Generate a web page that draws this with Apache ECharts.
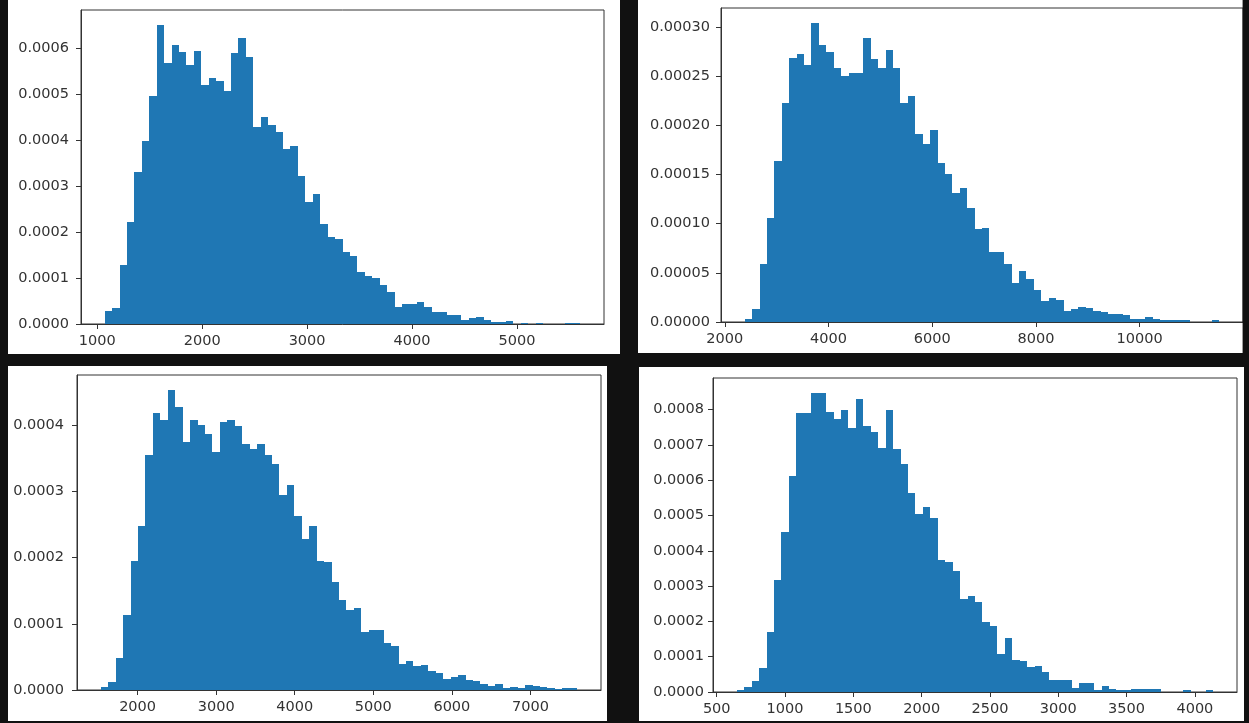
<!DOCTYPE html>
<html>
<head>
<meta charset="utf-8">
<script src="https://cdn.jsdelivr.net/npm/echarts@6/dist/echarts.min.js"></script>
<style>
  html, body { margin: 0; padding: 0; background: #111111; }
  #chart { width: 1249px; height: 723px; }
</style>
</head>
<body>
<div id="chart"></div>
<script>
// ---- data (density values; 64 equal-width bins per panel) ----
const hist1Range = [1072, 5603];
const hist1Density = [0.29e-4, 0.35e-4, 1.29e-4, 2.23e-4, 3.31e-4, 3.99e-4, 4.97e-4, 6.51e-4, 5.68e-4, 6.08e-4,
  5.92e-4, 5.64e-4, 5.95e-4, 5.20e-4, 5.35e-4, 5.29e-4, 5.08e-4, 5.89e-4, 6.22e-4, 5.81e-4,
  4.29e-4, 4.50e-4, 4.34e-4, 4.19e-4, 3.82e-4, 3.88e-4, 3.22e-4, 2.65e-4, 2.83e-4, 2.17e-4,
  1.90e-4, 1.86e-4, 1.57e-4, 1.48e-4, 1.14e-4, 1.05e-4, 1.00e-4, 0.85e-4, 0.69e-4, 0.38e-4,
  0.44e-4, 0.44e-4, 0.47e-4, 0.36e-4, 0.26e-4, 0.26e-4, 0.19e-4, 0.19e-4, 0.09e-4, 0.12e-4,
  0.15e-4, 0.09e-4, 0.04e-4, 0.04e-4, 0.07e-4, 0, 0.03e-4, 0, 0.03e-4, 0,
  0, 0, 0.03e-4, 0.03e-4];
const hist1XTicks = [1000, 2000, 3000, 4000, 5000];
const hist1YTicks = [0, 0.0001, 0.0002, 0.0003, 0.0004, 0.0005, 0.0006];

const hist2Range = [2385, 11535];
const hist2Density = [0.03e-4, 0.135e-4, 0.59e-4, 1.06e-4, 1.64e-4, 2.23e-4, 2.68e-4, 2.72e-4, 2.61e-4, 3.04e-4,
  2.82e-4, 2.74e-4, 2.58e-4, 2.50e-4, 2.53e-4, 2.53e-4, 2.89e-4, 2.67e-4, 2.58e-4, 2.77e-4,
  2.58e-4, 2.23e-4, 2.30e-4, 1.91e-4, 1.81e-4, 1.95e-4, 1.62e-4, 1.50e-4, 1.31e-4, 1.36e-4,
  1.16e-4, 0.945e-4, 0.96e-4, 0.71e-4, 0.71e-4, 0.59e-4, 0.40e-4, 0.515e-4, 0.44e-4, 0.33e-4,
  0.21e-4, 0.24e-4, 0.225e-4, 0.11e-4, 0.135e-4, 0.15e-4, 0.14e-4, 0.11e-4, 0.10e-4, 0.085e-4,
  0.085e-4, 0.07e-4, 0.035e-4, 0.035e-4, 0.05e-4, 0.035e-4, 0.02e-4, 0.02e-4, 0.02e-4, 0.02e-4,
  0, 0, 0, 0.02e-4];
const hist2XTicks = [2000, 4000, 6000, 8000, 10000];
const hist2YTicks = [0, 0.00005, 0.0001, 0.00015, 0.0002, 0.00025, 0.0003];

const hist3Range = [1532, 7595];
const hist3Density = [0.05e-4, 0.126e-4, 0.49e-4, 1.13e-4, 1.95e-4, 2.47e-4, 3.55e-4, 4.18e-4, 4.07e-4, 4.53e-4,
  4.28e-4, 3.75e-4, 4.07e-4, 4.00e-4, 3.87e-4, 3.59e-4, 4.05e-4, 4.07e-4, 3.98e-4, 3.72e-4,
  3.64e-4, 3.72e-4, 3.55e-4, 3.41e-4, 2.94e-4, 3.09e-4, 2.63e-4, 2.28e-4, 2.47e-4, 1.95e-4,
  1.93e-4, 1.63e-4, 1.36e-4, 1.21e-4, 1.24e-4, 0.88e-4, 0.90e-4, 0.90e-4, 0.71e-4, 0.67e-4,
  0.40e-4, 0.44e-4, 0.36e-4, 0.38e-4, 0.29e-4, 0.25e-4, 0.16e-4, 0.20e-4, 0.22e-4, 0.15e-4,
  0.13e-4, 0.09e-4, 0.055e-4, 0.095e-4, 0.03e-4, 0.05e-4, 0.03e-4, 0.07e-4, 0.055e-4, 0.05e-4,
  0.03e-4, 0.01e-4, 0.025e-4, 0.025e-4];
const hist3XTicks = [2000, 3000, 4000, 5000, 6000, 7000];
const hist3YTicks = [0, 0.0001, 0.0002, 0.0003, 0.0004];

const hist4Range = [647, 4134];
const hist4Density = [0.05e-4, 0.14e-4, 0.30e-4, 0.67e-4, 1.69e-4, 3.16e-4, 4.52e-4, 6.11e-4, 7.90e-4, 7.90e-4,
  8.47e-4, 8.47e-4, 7.94e-4, 7.74e-4, 7.98e-4, 7.49e-4, 8.31e-4, 7.54e-4, 7.37e-4, 6.92e-4,
  7.98e-4, 6.88e-4, 6.47e-4, 5.65e-4, 5.04e-4, 5.24e-4, 4.92e-4, 3.75e-4, 3.67e-4, 3.44e-4,
  2.63e-4, 2.71e-4, 2.54e-4, 1.97e-4, 1.86e-4, 1.08e-4, 1.52e-4, 0.92e-4, 0.87e-4, 0.71e-4,
  0.75e-4, 0.58e-4, 0.34e-4, 0.34e-4, 0.34e-4, 0.12e-4, 0.26e-4, 0.26e-4, 0.045e-4, 0.18e-4,
  0.09e-4, 0.057e-4, 0.057e-4, 0.09e-4, 0.09e-4, 0.09e-4, 0.09e-4, 0, 0, 0,
  0.057e-4, 0, 0, 0.057e-4];
const hist4XTicks = [500, 1000, 1500, 2000, 2500, 3000, 3500, 4000];
const hist4YTicks = [0, 0.0001, 0.0002, 0.0003, 0.0004, 0.0005, 0.0006, 0.0007, 0.0008];

// ---- layout ----
const BAR = '#1f77b4';
const INK = '#333333';
const FONT = 'DejaVu Sans';

const panels = [
  { range: hist1Range, dens: hist1Density, xt: hist1XTicks, yt: hist1YTicks, dec: 4, ym: 12,
    grid: { left: 81, top: 10, width: 523, height: 314 } },
  { range: hist2Range, dens: hist2Density, xt: hist2XTicks, yt: hist2YTicks, dec: 5, ym: 11,
    grid: { left: 721, top: 8, width: 522, height: 314 } },
  { range: hist3Range, dens: hist3Density, xt: hist3XTicks, yt: hist3YTicks, dec: 4, ym: 13,
    grid: { left: 77, top: 375, width: 524, height: 315 } },
  { range: hist4Range, dens: hist4Density, xt: hist4XTicks, yt: hist4YTicks, dec: 4, ym: 9,
    grid: { left: 713, top: 378, width: 524, height: 314 } }
];

function binRows(range, dens) {
  const n = dens.length, w = (range[1] - range[0]) / n;
  return dens.map((d, i) => [range[0] + i * w, range[0] + (i + 1) * w, d]);
}

const grids = [], xAxes = [], yAxes = [], series = [];
panels.forEach((p, k) => {
  grids.push(Object.assign({ show: true, borderColor: '#333', borderWidth: 1, backgroundColor: 'transparent' }, p.grid));
  const span = p.range[1] - p.range[0];
  const ymax = Math.max.apply(null, p.dens) * 1.05;
  xAxes.push({
    type: 'value', gridIndex: k,
    min: p.range[0] - 0.05 * span, max: p.range[1] + 0.05 * span,
    splitLine: { show: false },
    axisLine: { show: true, lineStyle: { color: '#333', width: 1 } },
    axisTick: { show: true, length: 5, lineStyle: { color: '#333' }, customValues: p.xt },
    axisLabel: { customValues: p.xt, color: INK, fontFamily: FONT, fontSize: 14.5, margin: 10,
      formatter: v => String(Math.round(v)) }
  });
  yAxes.push({
    type: 'value', gridIndex: k, min: 0, max: ymax,
    splitLine: { show: false },
    axisLine: { show: true, lineStyle: { color: '#333', width: 1 } },
    axisTick: { show: true, length: 5, lineStyle: { color: '#333' }, customValues: p.yt },
    axisLabel: { customValues: p.yt, color: INK, fontFamily: FONT, fontSize: 14.5, margin: p.ym,
      formatter: v => v.toFixed(p.dec) }
  });
  series.push({
    type: 'custom', xAxisIndex: k, yAxisIndex: k, clip: true,
    data: binRows(p.range, p.dens),
    renderItem: function (params, api) {
      const a = api.coord([api.value(0), 0]);
      const b = api.coord([api.value(1), api.value(2)]);
      const x0 = Math.round(a[0]), x1 = Math.round(b[0]);
      const y0 = Math.round(a[1]), y1 = Math.round(b[1]);
      return { type: 'rect',
        shape: { x: x0, y: y1, width: x1 - x0, height: y0 - y1 },
        style: { fill: BAR } };
    }
  });
});

const chart = echarts.init(document.getElementById('chart'), null, { renderer: 'canvas' });
chart.setOption({
  backgroundColor: '#111111',
  animation: false,
  graphic: [
    { type: 'rect', z: -10, shape: { x: 8, y: 0, width: 612, height: 354 }, style: { fill: '#fff' } },
    { type: 'rect', z: -10, shape: { x: 638, y: 0, width: 606, height: 353 }, style: { fill: '#fff' } },
    { type: 'rect', z: -10, shape: { x: 8, y: 366, width: 599, height: 355 }, style: { fill: '#fff' } },
    { type: 'rect', z: -10, shape: { x: 639, y: 367, width: 605, height: 354 }, style: { fill: '#fff' } },
    { type: 'rect', z: 100, shape: { x: 1242.6, y: 0, width: 7, height: 360 }, style: { fill: '#111111' } }
  ],
  grid: grids, xAxis: xAxes, yAxis: yAxes, series: series
});
</script>
</body>
</html>
